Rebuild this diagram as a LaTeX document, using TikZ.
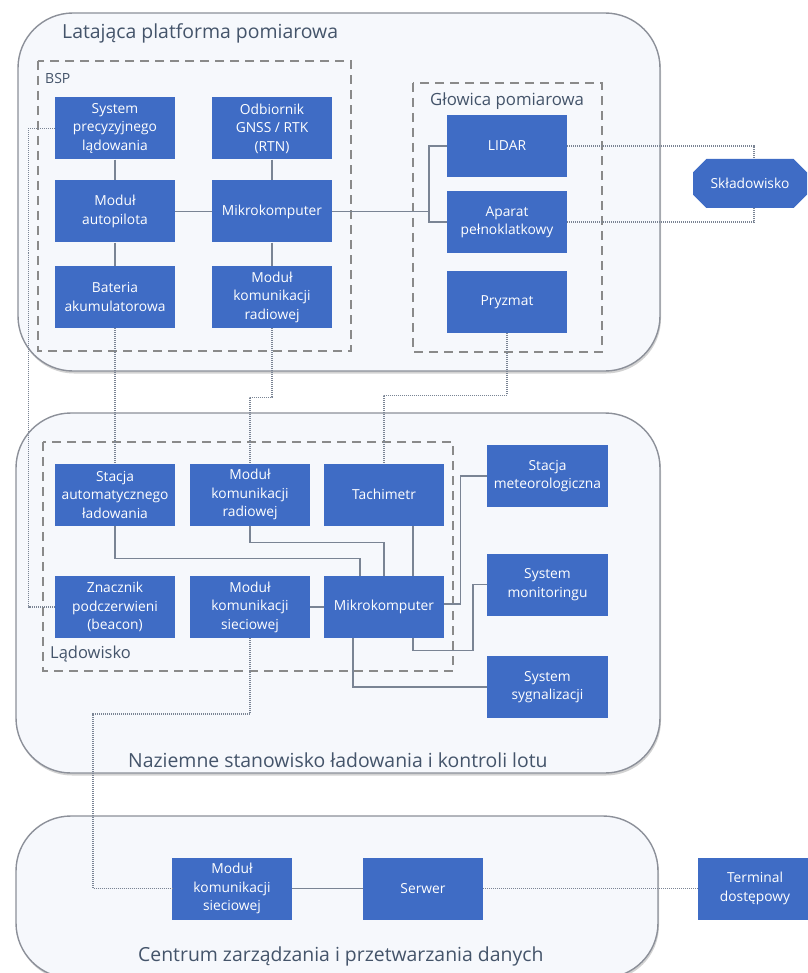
\documentclass[tikz,border=0pt]{standalone}
\usepackage{fontspec}
\setmainfont{Open Sans}
\usetikzlibrary{shapes.misc,shadows,calc}
\definecolor{boxblue}{HTML}{3F6CC5}
\definecolor{titlecol}{HTML}{44546A}
\definecolor{linecol}{HTML}{7A8494}
\definecolor{contfill}{HTML}{F6F8FC}
\definecolor{contdraw}{HTML}{8C9099}
\definecolor{dashcol}{HTML}{8A8A8A}
\begin{document}
\begin{tikzpicture}[x=1pt,y=-1pt,
 box/.style={fill=boxblue, text=white, minimum width=120pt, minimum height=62pt, inner sep=0pt, align=center, font=\fontsize{13.8}{18.5}\selectfont},
 cont/.style={draw=contdraw, line width=1.4pt, fill=contfill, rounded corners=55pt, drop shadow={opacity=0.35, shadow xshift=1pt, shadow yshift=-2.5pt}},
 grp/.style={draw=dashcol, line width=1.2pt, dash pattern=on 9pt off 6pt},
 conn/.style={draw=linecol, line width=1.2pt},
 dconn/.style={draw=linecol, line width=1.3pt, dash pattern=on 1pt off 1pt},
 title/.style={text=titlecol, font=\fontsize{19.4}{23}\selectfont, inner sep=0pt, anchor=west},
 glabel/.style={text=titlecol, font=\fontsize{16.8}{20}\selectfont, inner sep=0pt, anchor=west},
]
\useasboundingbox (0,0) rectangle (807,973);
\fill[white] (0,0) rectangle (807,973);

% containers
\draw[cont] (18,13) rectangle (660,371);
\draw[cont] (16,413) rectangle (660,773);
\draw[cont] (16,816) rectangle (658,978);

% groups
\draw[grp] (38,61) rectangle (351,351);
\draw[grp] (413,83) rectangle (602,352);
\draw[grp] (43,442) rectangle (453,671);

% labels
\node[title] (t1) at (62,33) {Latająca platforma pomiarowa};
\node[glabel, font=\fontsize{14}{16}\selectfont] (lbsp) at (45,79) {BSP};
\node[glabel] (lglow) at (430,101) {Głowica pomiarowa};
\node[glabel, font=\fontsize{16.5}{20}\selectfont] (llad) at (50,654) {Lądowisko};
\node[title] (t2) at (128,760) {Naziemne stanowisko ładowania i kontroli lotu};
\node[title] (t3) at (138,956) {Centrum zarządzania i przetwarzania danych};

% flying platform
\node[box] (sys) at (115,128.5) {System\\precyzyjnego\\lądowania};
\node[box] (gnss) at (272,128.5) {Odbiornik\\GNSS / RTK\\(RTN)};
\node[box] (auto) at (115,211.5) {Moduł\\autopilota};
\node[box] (mk1) at (272,211.5) {Mikrokomputer};
\node[box] (bat) at (115,297) {Bateria\\akumulatorowa};
\node[box] (radio1) at (272,297) {Moduł\\komunikacji\\radiowej};
\node[box] (lidar) at (507,146) {LIDAR};
\node[box] (aparat) at (507,222) {Aparat\\pełnoklatkowy};
\node[box] (pryzm) at (507,302) {Pryzmat};
\node[box, shape=chamfered rectangle, chamfered rectangle xsep=8pt, chamfered rectangle ysep=8pt, minimum width=114pt, minimum height=49pt] (skl) at (750,183.5) {Składowisko};

% ground station
\node[box] (ladow) at (115,494.5) {Stacja\\automatycznego\\ładowania};
\node[box] (radio2) at (250,494.5) {Moduł\\komunikacji\\radiowej};
\node[box] (tach) at (384,494.5) {Tachimetr};
\node[box] (znacz) at (115,607) {Znacznik\\podczerwieni\\(beacon)};
\node[box] (siec) at (250,607) {Moduł\\komunikacji\\sieciowej};
\node[box] (mk2) at (384,607) {Mikrokomputer};
\node[box, minimum width=121pt] (meteo) at (547.5,476) {Stacja\\meteorologiczna};
\node[box, minimum width=121pt] (monit) at (547.5,584.5) {System\\monitoringu};
\node[box, minimum width=121pt] (sygn) at (547.5,687) {System\\sygnalizacji};

% data centre
\node[box] (siec2) at (232,888.5) {Moduł\\komunikacji\\sieciowej};
\node[box] (serw) at (423,888.5) {Serwer};
\node[box, minimum width=114pt] (term) at (755,888.5) {Terminal\\dostępowy};

% connectors - platform
\draw[conn] (sys) -- (auto);
\draw[conn] (auto) -- (bat);
\draw[conn] (gnss) -- (mk1);
\draw[conn] (mk1) -- (radio1);
\draw[conn] (auto) -- (mk1);
\coordinate (gbus) at (429,211.5);
\draw[conn] (mk1.east) -- (gbus);
\draw[conn] (lidar.west) -| (gbus) |- (aparat.west);
\draw[dconn] (lidar.east) -| ([xshift=4pt]skl.north);
\draw[dconn] (aparat.east) -| ([xshift=4pt]skl.south);

% connectors - between platform and ground
\draw[dconn] (sys.west) -- ++(-26,0) |- (znacz.west);
\draw[dconn] (bat.south) -- (ladow.north);
\draw[dconn] (radio1.south) -- ++(0,69) -| (radio2.north);
\draw[dconn] (pryzm.south) -- ++(0,62) -| (tach.north);

% connectors - ground
\draw[conn] (ladow.south) -- ++(0,33) -| ([xshift=-24pt]mk2.north);
\draw[conn] (radio2.south) -- ++(0,17) -| (mk2.north);
\draw[conn] ([xshift=29pt]tach.south) -- ([xshift=29pt]mk2.north);
\draw[conn] (siec.east) -- (mk2.west);
\draw[conn] ([yshift=3pt]mk2.east) -- ++(16,0) |- (meteo.west);
\draw[conn] ([xshift=29pt]mk2.south) -- ++(0,12) -- ++(60,0) |- (monit.west);
\draw[conn] ([xshift=-31pt]mk2.south) |- (sygn.west);

% connectors - ground to data centre
\coordinate (c1) at (93,714);
\draw[dconn] (siec.south) |- (c1) |- (siec2.west);
\draw[conn] (siec2.east) -- (serw.west);
\draw[dconn] (serw.east) -- (term.west);
\end{tikzpicture}
\end{document}
